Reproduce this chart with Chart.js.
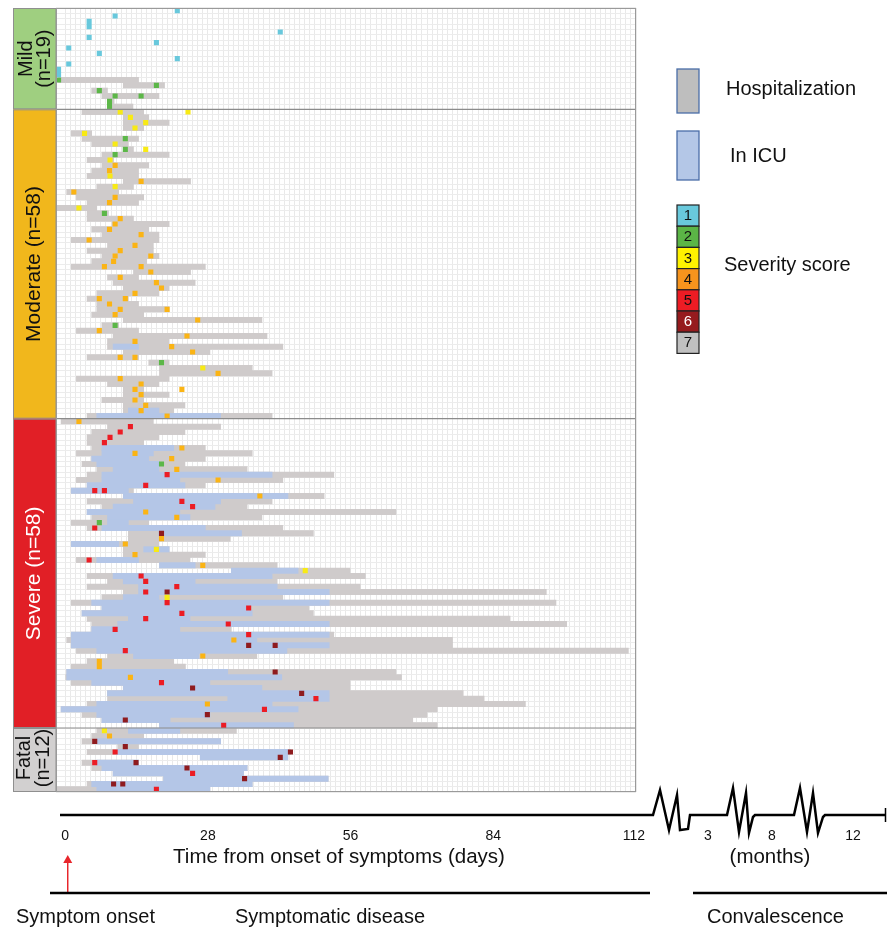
<!DOCTYPE html>
<html>
<head>
<meta charset="utf-8">
<script src="https://cdn.jsdelivr.net/npm/chart.js@4.4.0/dist/chart.umd.min.js"></script>
<style>
  html, body { margin: 0; padding: 0; background: #fff; }
  #wrap { width: 887px; height: 929px; position: relative; }
</style>
</head>
<body>
<div id="wrap"><canvas id="swimlane"></canvas></div>
<script>
// Patient groups (top to bottom)
var groups = ["Mild", "Moderate", "Severe", "Fatal"];
var groupTitles = [["Mild", "(n=19)"], ["Moderate (n=58)"], ["Severe (n=58)"], ["Fatal", "(n=12)"]];

// Hospitalization [start, end] in days from symptom onset, one entry per patient
var hospMild = [null, null, null, null, null, null, null, null, null, null,
  null, null, null, [-1.3, 14.4], [11.4, 19.5], [5.2, 8.3], [7.2, 18.4], [8.3, 9.6], [8.3, 13.3]];
var hospModerate = [
  [3.3, 15.4], [11.4, 16.4], [11.4, 20.4], [11.4, 15.4], [1.2, 5.2], [3.3, 14.4], [5.2, 12.4], [11.4, 13.4], [7.2, 20.4], [4.3, 9.5],
  [7.2, 16.4], [5.2, 14.4], [4.3, 14.4], [11.4, 24.6], [6.2, 13.4], [0.3, 10.5], [2.2, 15.4], [4.3, 14.4], [-1.8, 6.2], [4.3, 8.5],
  [4.3, 13.4], [9.2, 20.4], [5.2, 16.4], [7.2, 18.4], [1.2, 18.4], [8.3, 17.3], [4.3, 17.3], [7.2, 18.4], [5.2, 16], [1.2, 27.5],
  [13.4, 24.6], [8.3, 14.4], [9.4, 25.5], [11.4, 20.4], [6.2, 18.4], [4.3, 12.4], [6.2, 14.4], [6.2, 20.4], [5.2, 15.4], [11.4, 38.6],
  [7.2, 10.5], [2.2, 14.4], [9.4, 39.6], [8.3, 20.4], [8.3, 42.7], [11.4, 28.4], [4.3, 14.4], [16.4, 20.4], [18.5, 36.7], [18.5, 40.6],
  [2.2, 20.4], [8.3, 18.4], [11.4, 15.4], [11.4, 20.4], [7.2, 15.4], [11.4, 23.5], [11.4, 21.3], [4.3, 40.6]];
var hospSevere = [
  [-0.8, 17.3], [8.3, 30.5], [5.2, 23.5], [4.3, 18.4], [4.3, 15.4], [5.2, 27.5], [2.2, 36.7], [5.2, 27.5], [3.3, 23.5], [6.2, 35.7],
  [4.3, 52.7], [2.2, 42.7], [4.3, 27.5], [1.2, 13.4], [11.4, 50.8], [4.3, 40.6], [7.2, 35.7], [4.3, 64.9], [5.2, 38.6], [1.2, 16.4],
  [4.3, 42.7], [12.4, 48.7], [12.4, 32.4], [1.2, 18.4], [11.4, 20.4], [11.4, 27.5], [2.2, 24.5], [18.5, 41.6], [32.6, 55.9], [4.3, 58.9],
  [8.3, 41.6], [4.3, 57.9], [11.4, 94.4], [7.2, 42.7], [1.2, 96.3], [7.2, 47.8], [3.3, 48.7], [4.3, 87.3], [5.2, 98.4], [5.2, 32.6],
  [1.2, 52.7], [0.3, 76], [1.2, 76], [2.2, 110.5], [8.3, 37.6], [4.3, 21.3], [1.2, 23.6], [0.3, 64.9], [0, 66], [1.2, 55.9],
  [11.4, 55.9], [8.3, 78.1], [8.3, 82.2], [4.3, 90.3], [-0.8, 73], [3.3, 71], [7.2, 68.2], [18.5, 73]];
var hospFatal = [[6.2, 33.6], [5.2, 15.4], [3.3, 30.5], [10.3, 14.4], [4.3, 44.2], [26.5, 43.7],
  [3.3, 14.4], [5.2, 35.7], [9.4, 35], [19.3, 51.6], [4.3, 36.7], [-1.8, 28.4]];

// ICU stay [start, end], keyed by patient row within the group
var icuMild = {};
var icuModerate = { 44: [9.4, 14.4], 56: [12.4, 18.4], 57: [6.2, 30.5] };
var icuSevere = {
  5: [7.2, 21.3], 6: [7.2, 17.3], 7: [5.2, 16.4], 8: [6.2, 18.4], 9: [9.4, 18.4], 10: [7.2, 40.6], 11: [7.2, 22.5],
  12: [4.3, 23.5], 13: [1.2, 12.4], 14: [11.4, 43.7], 15: [13.4, 30.5], 16: [9.4, 29.4], 17: [4.3, 22.5], 18: [8.3, 24.5],
  19: [8.3, 12.4], 20: [7.2, 27.5], 21: [18.4, 34.6], 23: [1.2, 10.5], 24: [15.4, 20.4], 26: [6.2, 14.4], 27: [18.5, 25.5],
  28: [32.6, 45.7], 29: [9.4, 40.6], 30: [11.4, 25.5], 31: [14.4, 41.6], 32: [14.4, 51.8], 33: [11.4, 18.4], 34: [5.2, 51.8],
  35: [7.2, 35.9], 36: [3.3, 36.7], 37: [12.4, 24.5], 38: [10.3, 51.8], 39: [5.2, 22.5], 40: [1.2, 51.8], 41: [1.2, 37.6],
  42: [1.2, 51.8], 43: [6.2, 43.5], 44: [13.4, 26.2], 47: [0.3, 31.9], 48: [0.3, 42.5], 49: [5.2, 28.4], 50: [11.4, 38.6],
  51: [8.3, 51.8], 52: [31.9, 51.8], 53: [6.2, 40.6], 54: [-0.8, 45.7], 55: [6.2, 28.4], 56: [7.2, 20.6], 57: [18.5, 44.8] };
var icuFatal = { 0: [12.4, 22.5], 2: [6.2, 30.5], 4: [10.2, 43.7], 5: [26.5, 43.7], 6: [6.2, 14.4], 7: [7.2, 35.7],
  8: [9.4, 35], 9: [19.3, 51.6], 10: [5.2, 36.7], 11: [6.2, 28.4] };

// Severity score samples [day, score] per patient
var scoreMild = [[[22, 1]], [[9.8, 1]], [[4.7, 1]], [[4.7, 1]], [[42.2, 1]], [[4.7, 1]], [[17.9, 1]], [[0.7, 1]], [[6.7, 1]], [[22, 1]],
  [[0.7, 1]], [[-1.3, 1]], [[-1.3, 1]], [[-1.3, 2]], [[17.9, 2]], [[6.7, 2]], [[9.8, 2], [14.9, 2]], [[8.7, 2]], [[8.7, 2]]];
var scoreModerate = [
  [[10.8, 3], [24.1, 3]], [[12.8, 3]], [[15.8, 3]], [[13.7, 3]], [[3.8, 3]], [[11.8, 2]], [[9.8, 3]], [[11.8, 2], [15.8, 3]], [[9.8, 2]], [[8.8, 3]],
  [[9.8, 4]], [[8.7, 4]], [[8.8, 3]], [[14.9, 4]], [[9.8, 3]], [[1.7, 4]], [[9.8, 4]], [[8.7, 4]], [[2.7, 3]], [[7.7, 2]],
  [[10.8, 4]], [[9.8, 4]], [[8.7, 4]], [[14.9, 4]], [[4.7, 4]], [[13.7, 4]], [[10.8, 4]], [[9.8, 4], [16.8, 4]], [[9.5, 4]], [[7.7, 4], [14.9, 4]],
  [[16.8, 4]], [[10.8, 4]], [[17.9, 4]], [[18.9, 4]], [[13.7, 4]], [[6.7, 4], [11.8, 4]], [[8.7, 4]], [[10.8, 4], [20, 4]], [[9.8, 4]], [[26, 4]],
  [[9.8, 2]], [[6.7, 4]], [[23.9, 4]], [[13.7, 4]], [[20.9, 4]], [[25, 4]], [[10.8, 4], [13.7, 4]], [[18.9, 2]], [[27, 3]], [[30, 4]],
  [[10.8, 4]], [[14.9, 4]], [[13.7, 4], [22.9, 4]], [[14.9, 4]], [[13.7, 4]], [[15.8, 4]], [[14.9, 4]], [[20, 4]]];
var scoreSevere = [
  [[2.7, 4]], [[12.8, 5]], [[10.8, 5]], [[8.8, 5]], [[7.7, 5]], [[22.9, 4]], [[13.7, 4]], [[20.9, 4]], [[18.9, 2]], [[21.9, 4]],
  [[20, 5]], [[30, 4]], [[15.8, 5]], [[5.8, 5], [7.7, 5]], [[38.2, 4]], [[22.9, 5]], [[25, 5]], [[15.8, 4]], [[21.9, 4]], [[6.7, 2]],
  [[5.8, 5]], [[18.9, 6]], [[18.9, 4]], [[11.8, 4]], [[17.9, 3]], [[13.7, 4]], [[4.7, 5]], [[27, 4]], [[47.1, 3]], [[14.9, 5]],
  [[15.8, 5]], [[21.9, 5]], [[15.8, 5], [20, 6]], [[20, 3]], [[20, 5]], [[36, 5]], [[22.9, 5]], [[15.8, 5]], [[32, 5]], [[9.8, 5]],
  [[36, 5]], [[33.1, 4]], [[36, 6], [41.2, 6]], [[11.8, 5]], [[27, 4]], [[6.7, 4]], [[6.7, 4]], [[41.2, 6]], [[12.8, 4]], [[18.9, 5]],
  [[25, 6]], [[46.4, 6]], [[49.2, 5]], [[27.9, 4]], [[39.1, 5]], [[27.9, 6]], [[11.8, 6]], [[31.1, 5]]];
var scoreFatal = [[[7.7, 3]], [[8.7, 4]], [[5.8, 6]], [[11.8, 6]], [[9.8, 5], [44.2, 6]], [[42.2, 6]],
  [[5.8, 5], [13.9, 6]], [[23.9, 6]], [[25, 5]], [[35.2, 6]], [[9.5, 6], [11.3, 6]], [[17.9, 5]]];

var severityLevels = [1, 2, 3, 4, 5, 6, 7];
var dayTicks = [0, 28, 56, 84, 112];
var monthTicks = ["3", "8", "12"];

// colours
var groupColors = ["#9fcf80", "#f1b71c", "#e11f26", "#d2d0d0"];
var groupText = ["#111", "#111", "#fff", "#111"];
var sevColors = ["#68c8dc", "#5cb748", "#f8ea14", "#fbb414", "#ec1c24", "#8f1b1e", "#c2c2c2"];
var sevLegendColors = ["#69c9dc", "#5bb546", "#fff200", "#f7941d", "#ed1c24", "#961b1e", "#c0c0c0"];
var FONT = '"Liberation Sans", Arial, Helvetica, sans-serif';

// build the rows
var hospByGroup = [hospMild, hospModerate, hospSevere, hospFatal];
var icuByGroup = [icuMild, icuModerate, icuSevere, icuFatal];
var scoreByGroup = [scoreMild, scoreModerate, scoreSevere, scoreFatal];
var groupCounts = hospByGroup.map(function (h) { return h.length; });

var patients = [], hosp = [], icu = [], scores = [];
hospByGroup.forEach(function (h, g) {
  h.forEach(function (span, i) {
    patients.push(groups[g] + " " + (i + 1));
    hosp.push(span);
    icu.push(icuByGroup[g][i] || null);
    scores.push(scoreByGroup[g][i] || []);
  });
});

var scoreSets = severityLevels.map(function (s) {
  var pts = [];
  scores.forEach(function (list, i) {
    list.forEach(function (p) { if (p[1] === s) pts.push({ x: p[0], y: patients[i] }); });
  });
  return {
    type: "scatter",
    label: "Score " + s,
    data: pts,
    pointStyle: "rect",
    pointRadius: 3.6,
    pointHoverRadius: 3.6,
    borderWidth: 0,
    backgroundColor: sevColors[s - 1],
    order: 0
  };
});

function rot(ctx, text, x, y, lines, size, color) {
  ctx.save();
  ctx.translate(x, y);
  ctx.rotate(-Math.PI / 2);
  ctx.fillStyle = color;
  ctx.font = size + "px " + FONT;
  ctx.textAlign = "center";
  ctx.textBaseline = "middle";
  text.forEach(function (t, i) { ctx.fillText(t, 0, lines[i]); });
  ctx.restore();
}

var decorations = {
  id: "decorations",
  afterDraw: function (chart) {
    var ctx = chart.ctx, a = chart.chartArea, xs = chart.scales.x, ys = chart.scales.y;
    var rowH = (a.bottom - a.top) / patients.length;
    var r = a.right;
    ctx.save();

    // group boxes, labels and separators
    var start = 0;
    groups.forEach(function (g, gi) {
      var n = groupCounts[gi];
      var top = ys.getPixelForValue(start) - rowH / 2;
      var bot = ys.getPixelForValue(start + n - 1) + rowH / 2;
      ctx.fillStyle = groupColors[gi];
      ctx.fillRect(13, top, a.left - 13, bot - top);
      ctx.strokeStyle = "#8f8f8f";
      ctx.lineWidth = 1;
      ctx.strokeRect(13.5, top + 0.5, a.left - 13.5, bot - top - 1);
      if (gi > 0) {
        ctx.strokeStyle = "#8c8c8c";
        ctx.lineWidth = 1.2;
        ctx.beginPath();
        ctx.moveTo(a.left, top);
        ctx.lineTo(a.right, top);
        ctx.stroke();
      }
      var t = groupTitles[gi];
      var cx = (13 + a.left) / 2, cy = (top + bot) / 2;
      if (t.length === 1) rot(ctx, t, cx, cy, [0], 21, groupText[gi]);
      else if (gi === 0) rot(ctx, t, cx, cy, [-8, 9.5], 20, groupText[gi]);
      else rot(ctx, t, cx, cy - 2, [-10, 9], 20, groupText[gi]);
      start += n;
    });

    // plot frame
    ctx.strokeStyle = "#9a9a9a";
    ctx.lineWidth = 1;
    ctx.strokeRect(a.left + 0.5, a.top + 0.5, a.width - 1, a.height - 1);

    // legend
    var lx = r + 41;
    ctx.lineWidth = 1.3;
    ctx.strokeStyle = "#4a6ea8";
    ctx.fillStyle = "#bebebe";
    ctx.fillRect(lx, 69, 22, 44);
    ctx.strokeRect(lx, 69, 22, 44);
    ctx.fillStyle = "#b4c7e7";
    ctx.fillRect(lx, 131, 22, 49);
    ctx.strokeRect(lx, 131, 22, 49);
    ctx.strokeStyle = "#222";
    ctx.lineWidth = 1.2;
    ctx.textAlign = "center";
    ctx.textBaseline = "middle";
    ctx.font = "15px " + FONT;
    severityLevels.forEach(function (s, i) {
      var y0 = 205 + i * 21.2;
      ctx.fillStyle = sevLegendColors[i];
      ctx.fillRect(lx, y0, 22, 21.2);
      ctx.strokeRect(lx, y0, 22, 21.2);
      ctx.fillStyle = s === 6 ? "#fff" : "#111";
      ctx.fillText(String(s), lx + 11, y0 + 11);
    });
    ctx.fillStyle = "#111";
    ctx.textAlign = "left";
    ctx.font = "20px " + FONT;
    ctx.fillText("Hospitalization", r + 90, 89);
    ctx.fillText("In ICU", r + 94, 156);
    ctx.fillText("Severity score", r + 88, 265);

    // broken time axis
    var ay = a.bottom + 23;
    var W = chart.width;
    ctx.strokeStyle = "#000";
    ctx.lineWidth = 2.5;
    ctx.lineJoin = "miter";
    ctx.beginPath();
    ctx.moveTo(a.left + 4, ay);
    [[17, 0], [24, -25], [33, 15], [41, -20], [44, 15], [52, 14], [54, 0],
     [91, 0], [97, -27], [103, 17], [110, -22], [113, 18], [117, 2], [119, 0],
     [158, 0], [164, -27], [171, 17], [177, -22], [182, 18], [187, 2], [189, 0]].forEach(function (p) {
      ctx.lineTo(r + p[0], ay + p[1]);
    });
    ctx.lineTo(W - 1, ay);
    ctx.stroke();
    ctx.lineWidth = 1.5;
    ctx.beginPath();
    ctx.moveTo(W - 1.5, ay - 7);
    ctx.lineTo(W - 1.5, ay + 7);
    ctx.stroke();

    ctx.fillStyle = "#111";
    ctx.textAlign = "center";
    ctx.font = "14px " + FONT;
    dayTicks.forEach(function (d) {
      ctx.fillText(String(d), Math.min(xs.getPixelForValue(d), r - 2), ay + 21);
    });
    [72, 136, 217].forEach(function (dx, i) { ctx.fillText(monthTicks[i], r + dx, ay + 21); });
    ctx.font = "20.5px " + FONT;
    ctx.fillText("Time from onset of symptoms (days)", a.left + 283, ay + 42);
    ctx.fillText("(months)", r + 134, ay + 42);

    // symptom onset arrow
    var ox = xs.getPixelForValue(0.5);
    ctx.strokeStyle = "#e8262b";
    ctx.fillStyle = "#e8262b";
    ctx.lineWidth = 1.5;
    ctx.beginPath();
    ctx.moveTo(ox, ay + 77);
    ctx.lineTo(ox, ay + 46);
    ctx.stroke();
    ctx.beginPath();
    ctx.moveTo(ox, ay + 40);
    ctx.lineTo(ox - 4.5, ay + 48);
    ctx.lineTo(ox + 4.5, ay + 48);
    ctx.closePath();
    ctx.fill();

    // phase bars
    ctx.strokeStyle = "#000";
    ctx.lineWidth = 2.5;
    ctx.beginPath();
    ctx.moveTo(50, ay + 78);
    ctx.lineTo(r + 14, ay + 78);
    ctx.moveTo(r + 57, ay + 78);
    ctx.lineTo(W, ay + 78);
    ctx.stroke();
    ctx.fillStyle = "#111";
    ctx.textAlign = "left";
    ctx.font = "20px " + FONT;
    ctx.fillText("Symptom onset", 16, ay + 102);
    ctx.fillText("Symptomatic disease", 235, ay + 102);
    ctx.fillText("Convalescence", r + 71, ay + 102);
    ctx.restore();
  }
};

new Chart(document.getElementById("swimlane"), {
  type: "bar",
  data: {
    labels: patients,
    datasets: scoreSets.concat([
      {
        label: "In ICU",
        data: icu,
        backgroundColor: "#b4c6e7",
        grouped: false,
        barPercentage: 1,
        categoryPercentage: 1,
        borderWidth: 0,
        order: 1
      },
      {
        label: "Hospitalization",
        data: hosp,
        backgroundColor: "#cfcbcb",
        grouped: false,
        barPercentage: 1,
        categoryPercentage: 1,
        borderWidth: 0,
        order: 2
      }
    ])
  },
  options: {
    indexAxis: "y",
    responsive: true,
    maintainAspectRatio: false,
    animation: false,
    events: [],
    layout: { padding: { left: 56, top: 8, right: 251, bottom: 137 } },
    plugins: { legend: { display: false }, tooltip: { enabled: false } },
    scales: {
      x: {
        type: "linear",
        min: -1.8,
        max: 112,
        ticks: { display: false, stepSize: 1 },
        grid: { color: "#e9e9e9", drawTicks: false },
        border: { display: false }
      },
      y: {
        type: "category",
        ticks: { display: false },
        grid: { color: "#ececec", drawTicks: false, offset: true },
        border: { display: false }
      }
    }
  },
  plugins: [decorations]
});
</script>
</body>
</html>
